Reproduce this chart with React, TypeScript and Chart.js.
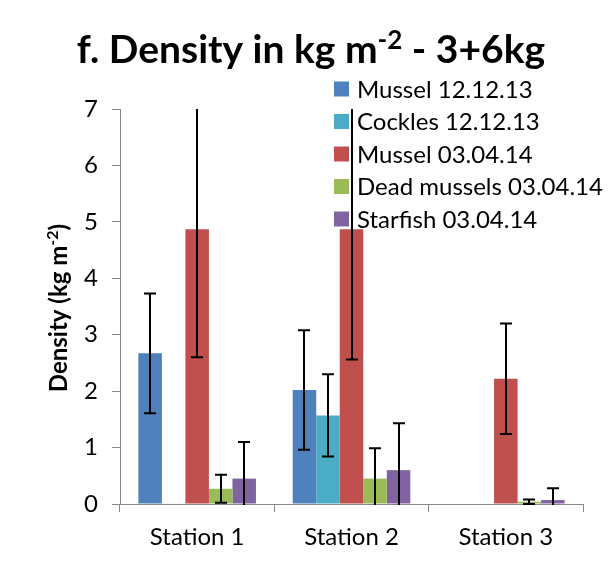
import React, { useEffect, useRef } from "react";
import { Chart, registerables } from "chart.js";

Chart.register(...registerables);

const categories = ["Station 1", "Station 2", "Station 3"];
const seriesLabels = [
  "Mussel 12.12.13",
  "Cockles 12.12.13",
  "Mussel 03.04.14",
  "Dead mussels 03.04.14",
  "Starfish 03.04.14",
];
const seriesColors = ["#4F81BD", "#4BACC6", "#C0504D", "#9BBB59", "#8064A2"];

const mussel121213 = [2.67, 2.02, 0];
const cockles121213 = [0.01, 1.57, 0];
const mussel030414 = [4.87, 4.87, 2.22];
const deadMussels030414 = [0.27, 0.45, 0.04];
const starfish030414 = [0.45, 0.6, 0.07];

const errMussel121213 = [1.06, 1.06, null];
const errCockles121213 = [null, 0.73, null];
const errMussel030414 = [2.27, 2.31, 0.98];
const errDeadMussels030414 = [0.25, 0.54, 0.04];
const errStarfish030414 = [0.65, 0.83, 0.21];

const yTicks = [0, 1, 2, 3, 4, 5, 6, 7];

const seriesValues = [mussel121213, cockles121213, mussel030414, deadMussels030414, starfish030414];
const seriesErrors = [errMussel121213, errCockles121213, errMussel030414, errDeadMussels030414, errStarfish030414];

const FONT = "Lato, 'Open Sans', sans-serif";

const errorBarPlugin = {
  id: "errorBars",
  afterDatasetsDraw(chart: any) {
    const ctx = chart.ctx;
    const area = chart.chartArea;
    const yScale = chart.scales.y;
    ctx.save();
    ctx.beginPath();
    ctx.rect(area.left, area.top, area.right - area.left, area.bottom - area.top + 1);
    ctx.clip();
    ctx.strokeStyle = "#000";
    ctx.lineWidth = 2;
    chart.data.datasets.forEach((ds: any, i: number) => {
      const meta = chart.getDatasetMeta(i);
      const errs = seriesErrors[i];
      meta.data.forEach((bar: any, j: number) => {
        const e = errs[j];
        if (e == null) return;
        const v = ds.data[j];
        const x = Math.round(bar.x);
        const yT = yScale.getPixelForValue(v + e);
        const yB = yScale.getPixelForValue(v - e);
        ctx.beginPath();
        ctx.moveTo(x, yT);
        ctx.lineTo(x, yB);
        ctx.moveTo(x - 6, yT);
        ctx.lineTo(x + 6, yT);
        ctx.moveTo(x - 6, yB);
        ctx.lineTo(x + 6, yB);
        ctx.stroke();
      });
    });
    ctx.restore();
  },
};

const textPlugin = {
  id: "customText",
  afterDraw(chart: any) {
    const ctx = chart.ctx;
    ctx.save();
    ctx.fillStyle = "#000";
    // Title with superscript
    const main = 39;
    const sup = 26;
    const p1 = "f. Density in kg m";
    const p2 = "-2";
    const p3 = " - 3+6kg";
    ctx.font = `bold ${main}px ${FONT}`;
    const w1 = ctx.measureText(p1).width;
    const w3 = ctx.measureText(p3).width;
    ctx.font = `bold ${sup}px ${FONT}`;
    const w2 = ctx.measureText(p2).width;
    const total = w1 + w2 + w3;
    let x = 311 - total / 2;
    const base = 63;
    ctx.textBaseline = "alphabetic";
    ctx.textAlign = "left";
    ctx.font = `bold ${main}px ${FONT}`;
    ctx.fillText(p1, x, base);
    x += w1;
    ctx.font = `bold ${sup}px ${FONT}`;
    ctx.fillText(p2, x, base - 14);
    x += w2;
    ctx.font = `bold ${main}px ${FONT}`;
    ctx.fillText(p3, x, base);

    // Y axis title rotated
    const ym = 24;
    const ys = 16;
    const q1 = "Density (kg m";
    const q2 = "-2";
    const q3 = ")";
    ctx.font = `bold ${ym}px ${FONT}`;
    const v1 = ctx.measureText(q1).width;
    const v3 = ctx.measureText(q3).width;
    ctx.font = `bold ${ys}px ${FONT}`;
    const v2 = ctx.measureText(q2).width;
    const vt = v1 + v2 + v3;
    ctx.translate(67, 308);
    ctx.rotate(-Math.PI / 2);
    let tx = -vt / 2;
    ctx.font = `bold ${ym}px ${FONT}`;
    ctx.fillText(q1, tx, 0);
    tx += v1;
    ctx.font = `bold ${ys}px ${FONT}`;
    ctx.fillText(q2, tx, -9);
    tx += v2;
    ctx.font = `bold ${ym}px ${FONT}`;
    ctx.fillText(q3, tx, 0);
    ctx.restore();

    // Legend
    ctx.save();
    ctx.font = `${24}px ${FONT}`;
    ctx.textBaseline = "middle";
    ctx.textAlign = "left";
    chart.data.datasets.forEach((ds: any, i: number) => {
      const cy = 89 + i * 32.5;
      ctx.fillStyle = ds.backgroundColor;
      ctx.fillRect(334, cy - 7.5, 15, 15);
      ctx.fillStyle = "#000";
      ctx.fillText(ds.label, 357, cy + 1);
    });
    ctx.restore();
  },
};

export default function App() {
  const ref = useRef<HTMLCanvasElement | null>(null);
  useEffect(() => {
    if (!ref.current) return;
    const chart = new Chart(ref.current, {
      type: "bar",
      data: {
        labels: categories,
        datasets: seriesLabels.map((label, i) => ({
          label,
          data: seriesValues[i],
          backgroundColor: seriesColors[i],
          borderWidth: 0,
          categoryPercentage: 0.762,
          barPercentage: 1,
        })),
      },
      options: {
        animation: false,
        responsive: false,
        layout: { padding: { left: 0, top: 109, right: 30, bottom: 0 } },
        plugins: {
          legend: { display: false },
          title: { display: false },
          tooltip: { enabled: false },
        },
        scales: {
          x: {
            grid: {
              offset: true,
              drawOnChartArea: false,
              tickLength: 8,
              color: "#868686",
            },
            border: { color: "#868686", width: 1 },
            ticks: {
              color: "#000",
              font: { family: FONT, size: 24 },
              padding: 11,
            },
            afterFit: (s: any) => {
              s.height = 67;
            },
          },
          y: {
            min: 0,
            max: 7,
            afterBuildTicks: (s: any) => {
              s.ticks = yTicks.map((v) => ({ value: v }));
            },
            grid: {
              drawOnChartArea: false,
              tickLength: 8,
              color: "#868686",
            },
            border: { color: "#868686", width: 1 },
            ticks: {
              color: "#000",
              font: { family: FONT, size: 24 },
              padding: 14,
            },
            afterFit: (s: any) => {
              s.width = 120;
            },
          },
        },
      },
      plugins: [errorBarPlugin, textPlugin],
    });
    return () => chart.destroy();
  }, []);
  return (
    <canvas
      ref={ref}
      width={613}
      height={571}
      style={{ position: "fixed", left: 0, top: 0, display: "block" }}
    />
  );
}
